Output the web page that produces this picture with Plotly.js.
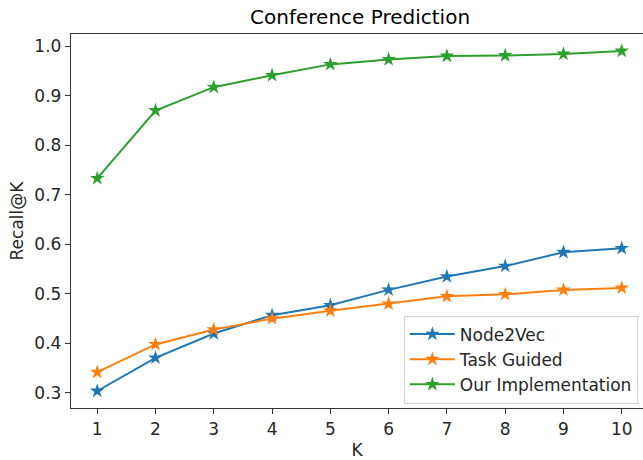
<!DOCTYPE html>
<html>
<head>
<meta charset="utf-8">
<script src="https://cdn.plot.ly/plotly-3.0.1.min.js"></script>
<style>html,body{margin:0;padding:0;background:#fff;overflow:hidden}#chart{width:643px;height:460px}</style>
</head>
<body>
<div id="chart"></div>
<script>
const kValues = [1, 2, 3, 4, 5, 6, 7, 8, 9, 10];
const node2vec = [0.304, 0.371, 0.420, 0.457, 0.477, 0.508, 0.535, 0.556, 0.584, 0.592];
const taskGuided = [0.342, 0.398, 0.428, 0.450, 0.466, 0.480, 0.495, 0.499, 0.508, 0.512];
const ourImpl = [0.733, 0.870, 0.917, 0.941, 0.963, 0.973, 0.980, 0.981, 0.984, 0.990];
const seriesNames = ["Node2Vec", "Task Guided", "Our Implementation"];
const colors = ["#1f77b4", "#ff7f0e", "#2ca02c"];
const yTicks = [0.3, 0.4, 0.5, 0.6, 0.7, 0.8, 0.9, 1.0];
const yTickText = ["0.3", "0.4", "0.5", "0.6", "0.7", "0.8", "0.9", "1.0"];

const allSeries = [node2vec, taskGuided, ourImpl];
const traces = allSeries.map((ys, i) => ({
  x: kValues, y: ys, name: seriesNames[i], type: "scatter", mode: "lines+markers",
  line: {color: colors[i], width: 2},
  marker: {symbol: "star", size: 11, color: colors[i]}
}));

const fam = "DejaVu Sans, sans-serif";
const font = {family: fam, size: 17, color: "#262626"};
const layout = {
  width: 643, height: 460,
  margin: {l: 71, r: 0, t: 34, b: 52},
  paper_bgcolor: "#fff", plot_bgcolor: "#fff",
  font: font,
  title: {text: "Conference Prediction", font: {family: fam, size: 20, color: "#000"}, x: 0.56, xanchor: "center", y: 0.963, yanchor: "middle"},
  xaxis: {
    range: [0.55, 10.365], tickvals: kValues, ticktext: kValues.map(String),
    showgrid: false, zeroline: false, showline: true, mirror: true, linecolor: "#333", linewidth: 1.2,
    ticks: "outside", ticklen: 5, tickcolor: "#333", tickfont: font,
    title: {text: "K", font: font, standoff: 8}
  },
  yaxis: {
    range: [0.2697, 1.0243], tickvals: yTicks, ticktext: yTickText,
    showgrid: false, zeroline: false, showline: true, mirror: false, linecolor: "#333", linewidth: 1.2,
    ticks: "outside", ticklen: 5, tickcolor: "#333", tickfont: font,
    title: {text: "Recall@K", font: font, standoff: 6}
  },
  legend: {
    x: 0.991, xanchor: "right", y: 0.012, yanchor: "bottom",
    bgcolor: "rgba(255,255,255,0.8)", bordercolor: "#d0d0d0", borderwidth: 1,
    font: font, tracegroupgap: 0, itemwidth: 45
  },
  showlegend: true
};
Plotly.newPlot("chart", traces, layout, {displayModeBar: false, staticPlot: true});
</script>
</body>
</html>
